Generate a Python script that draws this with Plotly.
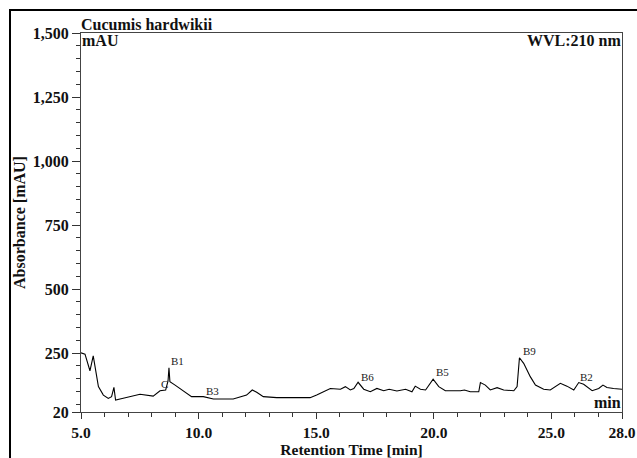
import plotly.graph_objects as go

# Chromatogram trace (retention time [min], absorbance [mAU])
rt = [5.0, 5.17, 5.38, 5.52, 5.74, 5.95, 6.16, 6.30, 6.40, 6.47, 6.66, 7.22, 7.51,
      8.07, 8.36, 8.60, 8.70, 8.74, 8.76, 8.78, 9.0, 9.28, 9.70, 10.2, 10.63, 11.47,
      12.04, 12.28, 12.47, 12.75, 13.32, 14.74, 15.02, 15.6, 16.03, 16.24, 16.45,
      16.6, 16.78, 17.02, 17.3, 17.58, 17.87, 18.1, 18.43, 18.8, 19.07, 19.21, 19.43,
      19.65, 19.78, 19.97, 20.21, 20.49, 21.13, 21.3, 21.55, 21.91, 21.98, 22.19,
      22.4, 22.69, 22.97, 23.4, 23.54, 23.64, 23.82, 24.1, 24.32, 24.67, 24.95,
      25.38, 25.66, 25.95, 26.16, 26.37, 26.73, 27.01, 27.19, 27.36, 27.64, 28.0]
absorb = [251, 246, 181, 239, 119, 86, 73, 80, 116, 67, 71, 84, 89,
          82, 103, 106, 141, 193, 141, 138, 125, 106, 80, 80, 71, 71,
          86, 106, 97, 80, 76, 76, 86, 112, 109, 119, 106,
          112, 136, 109, 99, 112, 103, 109, 102, 109, 99, 121, 109,
          106, 125, 148, 119, 103, 103, 106, 99, 99, 135, 125,
          106, 115, 106, 103, 119, 232, 210, 158, 125, 109, 106,
          132, 121, 106, 135, 128, 103, 112, 125, 116, 112, 109]

# Peak labels
peak_names = ["B1", "B3", "B6", "B5", "B9", "B2", "C"]
peak_rt = [9.12, 10.6, 17.19, 20.35, 24.06, 26.51, 8.57]
peak_y = [219, 103, 158, 177, 259, 158, 130]

# Axis ticks
y_ticks = [20, 250, 500, 750, 1000, 1250, 1500]
y_ticktext = ["20", "250", "500", "750", "1,000", "1,250", "1,500"]
y_minor = [v for v in range(50, 1500, 50) if v not in y_ticks]
x_ticks = [5, 10, 15, 20, 25, 28]
x_ticktext = ["5.0", "10.0", "15.0", "20.0", "25.0", "28.0"]
x_minor = [v for v in range(6, 28) if v not in x_ticks]

SERIF = "Liberation Serif"

fig = go.Figure()
fig.add_trace(go.Scatter(x=rt, y=absorb, mode="lines",
                         line=dict(color="black", width=1.1), showlegend=False,
                         hoverinfo="skip"))

for name, px_, py_ in zip(peak_names, peak_rt, peak_y):
    fig.add_annotation(x=px_, y=py_, text=name, showarrow=False, xref="x", yref="y",
                       font=dict(family=SERIF, size=11, color="#222"))

axis_common = dict(showline=True, linecolor="#444", linewidth=1, mirror=True,
                   showgrid=False, zeroline=False, ticks="outside", tickcolor="#333",
                   automargin=False)

fig.update_xaxes(range=[5, 28], tickmode="array", tickvals=x_ticks, ticktext=x_ticktext,
                 ticklen=6, tickwidth=1,
                 tickfont=dict(family=SERIF, size=15.5, color="#111", weight="bold"),
                 minor=dict(tickmode="array", tickvals=x_minor, ticks="outside",
                            ticklen=4, tickcolor="#333"),
                 title=dict(text="Retention Time [min]", standoff=3,
                            font=dict(family=SERIF, size=15.5, color="#111", weight="bold")),
                 **axis_common)
fig.update_yaxes(range=[20, 1500], tickmode="array", tickvals=y_ticks, ticktext=y_ticktext,
                 ticklen=8, tickwidth=1,
                 tickfont=dict(family=SERIF, size=16, color="#111", weight="bold"),
                 minor=dict(tickmode="array", tickvals=y_minor, ticks="outside",
                            ticklen=4, tickcolor="#333"),
                 title=dict(text="Absorbance [mAU]", standoff=3,
                            font=dict(family=SERIF, size=16, color="#111", weight="bold")),
                 **axis_common)

bold = dict(family=SERIF, size=16, color="#111", weight="bold")
fig.add_annotation(x=0, y=1.0, xref="paper", yref="paper", text="Cucumis hardwikii",
                   showarrow=False, xanchor="left", yanchor="bottom", font=bold, xshift=-2, yshift=-2)
fig.add_annotation(x=0, y=1.0, xref="paper", yref="paper", text="mAU",
                   showarrow=False, xanchor="left", yanchor="top", font=bold, xshift=-1, yshift=3)
fig.add_annotation(x=1, y=1.0, xref="paper", yref="paper", text="WVL:210 nm",
                   showarrow=False, xanchor="right", yanchor="top", font=bold, xshift=1, yshift=3)
fig.add_annotation(x=1, y=0.0, xref="paper", yref="paper", text="min",
                   showarrow=False, xanchor="right", yanchor="bottom", font=bold, xshift=1, yshift=-1)

# Outer frame
fig.add_shape(type="rect", xref="paper", yref="paper",
              x0=(10 - 81) / 541, x1=(645 - 81) / 541,
              y0=-(470 - 412) / 379, y1=1 + (33 - 10) / 379,
              line=dict(color="black", width=2), layer="below")

fig.update_layout(width=637, height=458, autosize=False,
                  margin=dict(l=81, r=15, t=33, b=46, autoexpand=False),
                  paper_bgcolor="white", plot_bgcolor="white",
                  font=dict(family=SERIF))

fig.write_html("out.html")
